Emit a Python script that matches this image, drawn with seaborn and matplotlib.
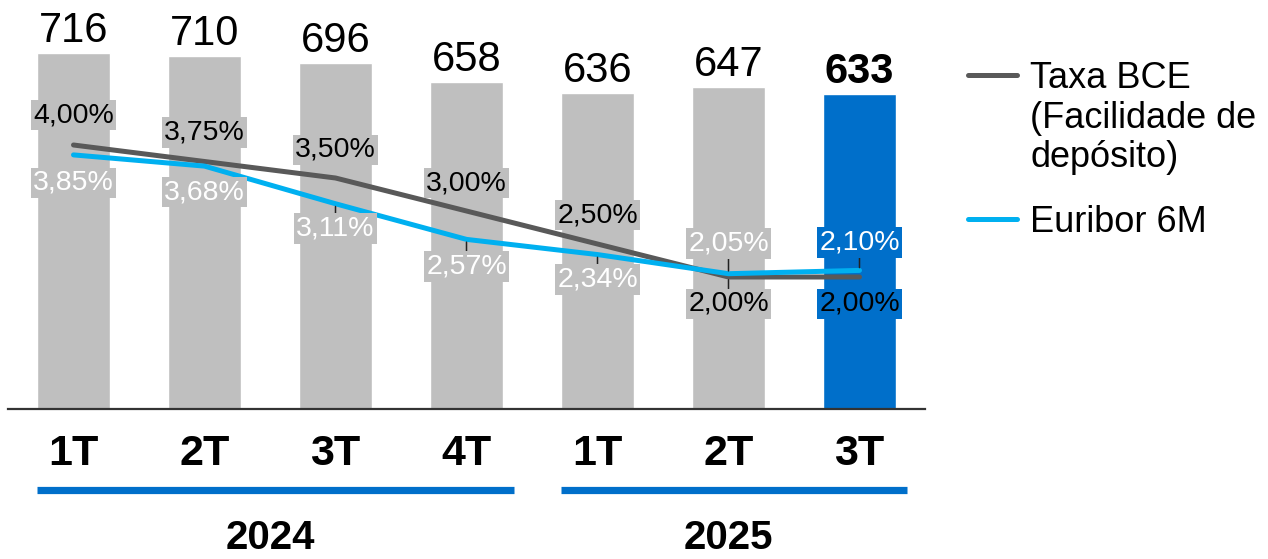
import matplotlib
matplotlib.use("Agg")
import matplotlib.pyplot as plt
from matplotlib.lines import Line2D
from matplotlib.transforms import blended_transform_factory
import seaborn as sns
import pandas as pd

# ---- data ----
quarters = ["1T", "2T", "3T", "4T", "1T", "2T", "3T"]
years = ["2024", "2024", "2024", "2024", "2025", "2025", "2025"]
volume = [716, 710, 696, 658, 636, 647, 633]
taxa_bce = [4.00, 3.75, 3.50, 3.00, 2.50, 2.00, 2.00]
euribor_6m = [3.85, 3.68, 3.11, 2.57, 2.34, 2.05, 2.10]

# ---- style ----
GREY = "#bfbfbf"
BLUE = "#006fca"
C_BCE = "#595959"
C_EUR = "#00b0f0"

sns.set_style("white")
plt.rcParams["font.family"] = ["Liberation Sans", "DejaVu Sans"]
plt.rcParams["text.color"] = "black"
plt.rcParams["xtick.color"] = "black"

W, H = 1268, 559
fig = plt.figure(figsize=(W / 100, H / 100), dpi=100)
ax = fig.add_axes([8 / W, 150 / H, 917 / W, 409 / H])

n = len(volume)
periods = [f"{q} {y}" for q, y in zip(quarters, years)]
bar_colors = [GREY] * (n - 1) + [BLUE]
df = pd.DataFrame({"periodo": periods, "volume": volume})

sns.barplot(data=df, x="periodo", y="volume", hue="periodo", palette=bar_colors,
            order=periods, hue_order=periods, width=0.56, saturation=1,
            legend=False, ax=ax)
ax.set_xlim(-0.5, n - 0.5)
ax.set_ylim(0, 822.6)
ax.set_xlabel("")
ax.set_ylabel("")
ax.set_yticks([])
ax.set_xticks(range(n))
ax.set_xticklabels(quarters, fontsize=31, fontweight="bold", color="black")
ax.tick_params(axis="x", length=0, pad=18)
for side in ("top", "left", "right"):
    ax.spines[side].set_visible(False)
ax.spines["bottom"].set_color("#333333")
ax.spines["bottom"].set_linewidth(1.6)

# volume labels above bars
for i, v in enumerate(volume):
    last = i == n - 1
    ax.annotate(f"{v}", (i, v), xytext=(0, 11), textcoords="offset pixels",
                ha="center", va="baseline", fontsize=30,
                fontweight="bold" if last else "normal", color="black")

# rate lines on a secondary axis
ax2 = ax.twinx()
pos = list(range(n))
sns.lineplot(x=pos, y=taxa_bce, color=C_BCE, lw=3.6, ax=ax2,
             solid_capstyle="round")
sns.lineplot(x=pos, y=euribor_6m, color=C_EUR, lw=3.6, ax=ax2,
             solid_capstyle="round")
ax2.set_ylim(0, 409 / 66)
ax2.set_xlim(-0.5, n - 0.5)
ax2.set_yticks([])
ax2.set_ylabel("")
for side in ax2.spines:
    ax2.spines[side].set_visible(False)


def pct(v):
    return f"{v:.2f}%".replace(".", ",")


# label placement: pixel offset from the point (positive = below), and leaders
bce_offset = [-30, -29, -28, -28, -29, 27, 27]
eur_offset = [28, 26, 25, 27, 25, -30, -28]
bce_leader = [False, False, False, False, False, True, False]
eur_leader = [False, False, True, True, True, True, True]

for series, offs, leaders, tcolor in (
        (taxa_bce, bce_offset, bce_leader, "black"),
        (euribor_6m, eur_offset, eur_leader, "white")):
    for i, v in enumerate(series):
        kw = {}
        if leaders[i]:
            kw["arrowprops"] = dict(arrowstyle="-", color="#222222", lw=1.1,
                                    shrinkA=0, shrinkB=2)
        ax2.annotate(pct(v), (i, v), xytext=(0, -offs[i]), textcoords="offset pixels",
                     ha="center", va="center", fontsize=20.5, color=tcolor,
                     bbox=dict(boxstyle="square,pad=0.08", fc=bar_colors[i], ec="none"),
                     zorder=5, **kw)

# year groups: underline and label
trans = blended_transform_factory(ax.transData, fig.transFigure)
groups = []
for i, y in enumerate(years):
    if groups and groups[-1][0] == y:
        groups[-1][2] = i
    else:
        groups.append([y, i, i])
for y, i0, i1 in groups:
    ax.add_line(Line2D([i0 - 0.28, i1 + 0.36], [(H - 490) / H] * 2, transform=trans,
                       color=BLUE, lw=5.2, clip_on=False, solid_capstyle="butt"))
    ax.text((i0 + i1) / 2, (H - 549) / H, y, transform=trans, ha="center",
            va="baseline", fontsize=29, fontweight="bold", color="black")

# legend
for ypx, col, label in ((75, C_BCE, "Taxa BCE\n(Facilidade de\ndepósito)"),
                        (219, C_EUR, "Euribor 6M")):
    fig.add_artist(Line2D([968 / W, 1017 / W], [(H - ypx) / H] * 2, color=col,
                          lw=3.6, solid_capstyle="round"))
    fig.text(1030 / W, (H - ypx + 14) / H, label, ha="left", va="top",
             fontsize=26, linespacing=1.17, color="black")

fig.savefig("out.png", dpi=100)
